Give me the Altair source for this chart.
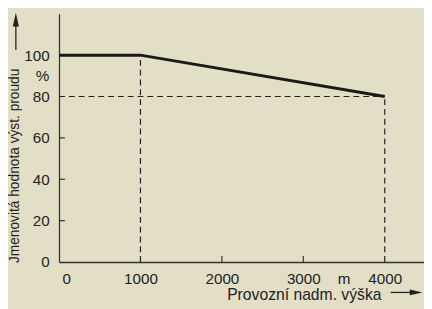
import altair as alt
import pandas as pd

# Data
altitude = [0, 1000, 4000]          # m
current = [100, 100, 80]            # % of rated output current
x_ticks = [0, 1000, 2000, 3000, 4000]
y_ticks = [0, 20, 40, 60, 80, 100]
x_minor_ticks = [2000, 3000]
y_minor_ticks = [20, 40, 60]

BG = "#e2dfc6"
INK = "#222222"
FONT = "Liberation Sans"
FS = 15.5

XMAX = 4482
YMAX = 120
W = 372
H = 253

line_df = pd.DataFrame({"x": altitude, "y": current})

# dashed guide segments from the knee points of the curve
guides = []
for xv, yv in zip(altitude[1:], current[1:]):
    guides.append({"x": xv, "x2": xv, "y": 0, "y2": yv})
guides.append({"x": 0, "x2": altitude[-1], "y": current[-1], "y2": current[-1]})
guide_df = pd.DataFrame(guides)

xs = alt.Scale(domain=[0, XMAX], nice=False, zero=False)
ys = alt.Scale(domain=[0, YMAX], nice=False, zero=False)

axis_common = dict(
    title=None, ticks=False, grid=False, format="d",
    labelFont=FONT, labelFontSize=FS, labelColor=INK,
    domainColor="#333333", domainWidth=1.3,
)

x_axis = alt.Axis(values=x_ticks, labelPadding=10, labelFlush=True,
                  labelFlushOffset=-3, **axis_common)
y_axis = alt.Axis(values=y_ticks, labelPadding=10, **axis_common)

base = alt.Chart(line_df)

main_line = base.mark_line(color="#1a1a1a", strokeWidth=3).encode(
    x=alt.X("x:Q", scale=xs, axis=x_axis),
    y=alt.Y("y:Q", scale=ys, axis=y_axis),
)

dashed = alt.Chart(guide_df).mark_rule(
    color=INK, strokeWidth=1.2, strokeDash=[6, 4]
).encode(
    x=alt.X("x:Q", scale=xs), x2="x2:Q",
    y=alt.Y("y:Q", scale=ys), y2="y2:Q",
)

xtick_marks = alt.Chart(pd.DataFrame({"x": x_minor_ticks})).mark_rule(
    color="#333333", strokeWidth=1.2
).encode(x=alt.X("x:Q", scale=xs), y=alt.value(H), y2=alt.value(H - 6))

ytick_marks = alt.Chart(pd.DataFrame({"y": y_minor_ticks})).mark_rule(
    color="#333333", strokeWidth=1.2
).encode(y=alt.Y("y:Q", scale=ys), x=alt.value(0), x2=alt.value(6))

unit_pct = alt.Chart(pd.DataFrame({"t": ["%"], "y": [90]})).mark_text(
    font=FONT, fontSize=FS, color=INK, align="right", baseline="middle"
).encode(text="t:N", y=alt.Y("y:Q", scale=ys), x=alt.value(-10))

unit_m = alt.Chart(pd.DataFrame({"t": ["m"], "x": [3500]})).mark_text(
    font=FONT, fontSize=FS, color=INK, align="center", baseline="top"
).encode(text="t:N", x=alt.X("x:Q", scale=xs), y=alt.value(H + 10))

y_title = alt.Chart(pd.DataFrame({"t": ["Jmenovitá hodnota výst. proudu"]})).mark_text(
    font=FONT, fontSize=14, color=INK, angle=270, align="center", baseline="middle"
).encode(text="t:N", x=alt.value(-44.5), y=alt.value(155))

x_title = alt.Chart(pd.DataFrame({"t": ["Provozní nadm. výška"]})).mark_text(
    font=FONT, fontSize=16, color=INK, align="center", baseline="middle"
).encode(text="t:N", x=alt.value(250), y=alt.value(287))

# arrows next to the axis titles
y_arrow_line = alt.Chart(pd.DataFrame({"a": [0]})).mark_rule(
    color=INK, strokeWidth=1.3
).encode(x=alt.value(-44), y=alt.value(37), y2=alt.value(10))
y_arrow_head = alt.Chart(pd.DataFrame({"a": [0]})).mark_point(
    shape="M0,-1L0.45,1L-0.45,1Z", filled=True, color=INK, opacity=1, size=196
).encode(x=alt.value(-44), y=alt.value(6))

x_arrow_line = alt.Chart(pd.DataFrame({"a": [0]})).mark_rule(
    color=INK, strokeWidth=1.3
).encode(x=alt.value(338), x2=alt.value(362), y=alt.value(284))
x_arrow_head = alt.Chart(pd.DataFrame({"a": [0]})).mark_point(
    shape="M1,0L-1,0.45L-1,-0.45Z", filled=True, color=INK, opacity=1, size=169
).encode(x=alt.value(364), y=alt.value(284))

chart = alt.layer(
    dashed, xtick_marks, ytick_marks, main_line, unit_pct, unit_m,
    y_title, x_title, y_arrow_line, y_arrow_head, x_arrow_line, x_arrow_head,
).properties(
    width=W, height=H,
    autosize=alt.AutoSizeParams(type="none"),
    padding={"left": 52, "top": 3, "right": 0, "bottom": 45},
    background=BG,
).configure_view(stroke=None)

chart.save("out.html", embed_options={"renderer": "svg", "actions": False})
